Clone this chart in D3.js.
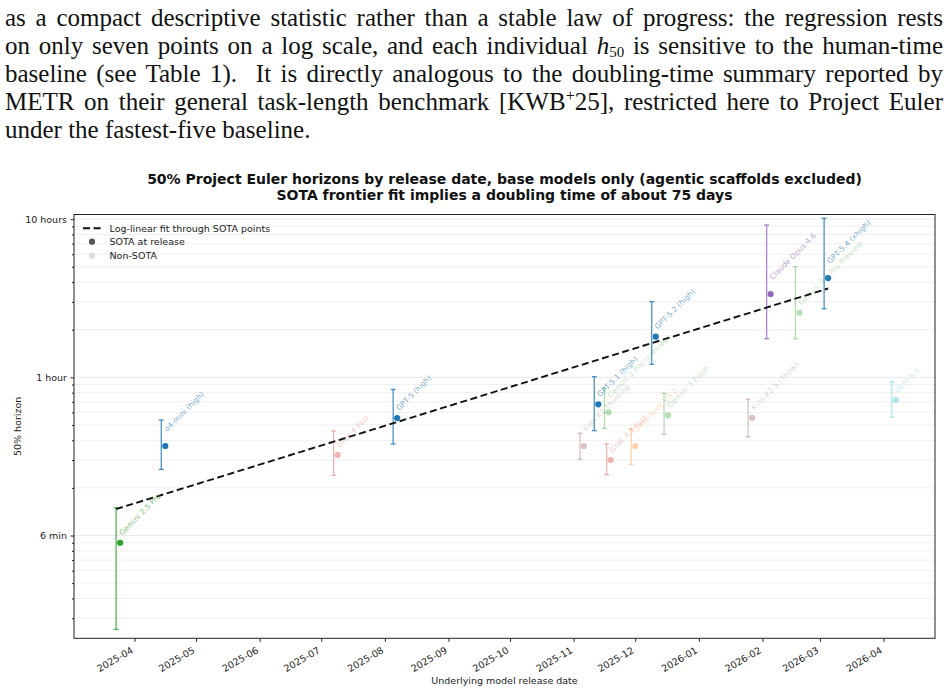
<!DOCTYPE html>
<html lang="en">
<head>
<meta charset="utf-8">
<title>50% Project Euler horizons by release date</title>
<script src="https://cdn.jsdelivr.net/npm/d3@7"></script>
<style>
  body { margin: 0; background: #fff; }
  svg { display: block; }
  .axis text { font-family: "DejaVu Sans", sans-serif; font-size: 9.5px; fill: #222; }
  .axis line { stroke: #222; }
  .axis path { display: none; }
</style>
</head>
<body>
<script>
// ---- data ----
const models = ["Gemini 2.5 Pro", "o4-mini (high)", "Grok 4 Fast", "GPT-5 (high)", "Kimi K2 Thinking",
  "GPT-5.1 (high)", "Gemini 3 Pro (preview)", "Grok 4.1 Fast", "DeepSeek V3.2", "GPT-5.2 (high)",
  "Gemini 3 Flash", "Kimi K2.5 (Think)", "Claude Opus 4.6", "Gemini 3.1 Pro Preview", "GPT-5.4 (xhigh)", "GLM-5.1"]
const releaseDates = ["2025-03-25", "2025-04-16", "2025-07-09", "2025-08-07", "2025-11-06",
  "2025-11-13", "2025-11-18", "2025-11-19", "2025-12-01", "2025-12-11",
  "2025-12-17", "2026-01-27", "2026-02-05", "2026-02-19", "2026-03-05", "2026-04-07"]
const developers = ["Google", "OpenAI", "xAI", "OpenAI", "Moonshot",
  "OpenAI", "Google", "xAI", "DeepSeek", "OpenAI",
  "Google", "Moonshot", "Anthropic", "Google", "OpenAI", "Zhipu"]
// 50% horizon in hours, with interval bounds
const horizonHours = [0.090, 0.368, 0.323, 0.553, 0.368, 0.675, 0.601, 0.300, 0.368, 1.806, 0.575, 0.555, 3.36, 2.56, 4.24, 0.719]
const lowerHours   = [0.0255, 0.262, 0.240, 0.379, 0.303, 0.460, 0.476, 0.242, 0.282, 1.208, 0.436, 0.421, 1.754, 1.754, 2.714, 0.559]
const upperHours   = [0.150, 0.537, 0.458, 0.840, 0.443, 1.009, 0.852, 0.379, 0.473, 3.006, 0.792, 0.729, 9.18, 5.00, 10.12, 0.938]
const isSota = [true, true, false, true, false, true, false, false, false, true, false, false, true, false, true, false]

const yTickValues = [0.1, 1, 10]
const yTickLabels = ["6 min", "1 hour", "10 hours"]

const titleLines = ["50% Project Euler horizons by release date, base models only (agentic scaffolds excluded)",
  "SOTA frontier fit implies a doubling time of about 75 days"]
const legendLabels = ["Log-linear fit through SOTA points", "SOTA at release", "Non-SOTA"]

// ---- styling ----
const devColor = {Google: "#2ca02c", OpenAI: "#1f77b4", xAI: "#d62728", Moonshot: "#8c564b",
  DeepSeek: "#ff7f0e", Anthropic: "#9467bd", Zhipu: "#17becf"}
const liftedLabels = new Set(["o4-mini (high)", "Kimi K2 Thinking", "Gemini 3 Pro (preview)",
  "DeepSeek V3.2", "Claude Opus 4.6", "GPT-5.4 (xhigh)"])

const w = 948
const h = 691
const box = {left: 74, right: 935, top: 214.5, bottom: 638.3}
const parseDate = d3.utcParse("%Y-%m-%d")

const svg = d3.select("body").append("svg")
    .attr("width", w)
    .attr("height", h)

// ---- paragraph above the figure ----
const para = [
  [{t: "as a compact descriptive statistic rather than a stable law of progress: the regression rests"}],
  [{t: "on only seven points on a log scale, and each individual "}, {t: "h", it: true}, {t: "50", sub: true},
   {t: " is sensitive to the human-time"}],
  [{t: "baseline (see Table 1).  It is directly analogous to the doubling-time summary reported by"}],
  [{t: "METR on their general task-length benchmark [KWB"}, {t: "+", sup: true}, {t: "25], restricted here to Project Euler"}],
  [{t: "under the fastest-five baseline."}]
]
para.forEach((segs, i) => {
  const t = svg.append("text")
      .attr("x", 5)
      .attr("y", 26 + i * 28)
      .attr("font-family", "'Liberation Serif', 'DejaVu Serif', serif")
      .attr("font-size", 25)
      .attr("fill", "#111")
      .style("white-space", "pre")
  segs.forEach(s => {
    const sp = t.append("tspan").text(s.t)
    if (s.it) sp.attr("font-style", "italic")
    if (s.sub) sp.attr("font-size", 15).attr("dy", 3)
    if (s.sup) sp.attr("font-size", 16).attr("dy", -9)
    if (s.sub || s.sup) sp.attr("data-back", s.sub ? -3 : 9)
  })
  // segment after a sub/superscript goes back to the baseline
  t.selectAll("tspan").each(function(d, j, nodes) {
    const prev = j > 0 ? nodes[j - 1] : null
    if (prev && prev.getAttribute("data-back")) this.setAttribute("dy", prev.getAttribute("data-back"))
  })
  if (i < para.length - 1) {
    const natural = t.node().getComputedTextLength()
    const spaces = (t.text().match(/ /g) || []).length
    t.style("word-spacing", ((938 - natural) / spaces) + "px")
  }
})

// ---- scales ----
const x = d3.scaleUtc()
    .domain([new Date(Date.UTC(2025, 2, 2, 12, 30)), new Date(Date.UTC(2026, 3, 26, 2))])
    .range([box.left, box.right])

const y = d3.scaleLog()
    .domain([0.0224, 10.7])
    .range([box.bottom, box.top])

const minorTicks = y.ticks().filter(v => !yTickValues.some(m => Math.abs(m - v) < 1e-9))

// ---- grid ----
svg.append("g")
    .selectAll("line")
    .data(minorTicks)
    .enter()
    .append("line")
    .attr("x1", box.left).attr("x2", box.right)
    .attr("y1", d => y(d)).attr("y2", d => y(d))
    .attr("stroke", "#ececec")
    .attr("stroke-width", 0.8)

svg.append("g")
    .selectAll("line")
    .data(yTickValues)
    .enter()
    .append("line")
    .attr("x1", box.left).attr("x2", box.right)
    .attr("y1", d => y(d)).attr("y2", d => y(d))
    .attr("stroke", "#e2e2e2")
    .attr("stroke-width", 0.8)

// ---- axes ----
const yAxis = d3.axisLeft(y)
    .tickValues(yTickValues)
    .tickFormat((d, i) => yTickLabels[i])
    .tickSize(3.5)
    .tickPadding(3.5)
svg.append("g")
    .attr("class", "axis")
    .attr("transform", `translate(${box.left}, 0)`)
    .call(yAxis)

svg.append("g")
    .attr("class", "axis")
    .attr("transform", `translate(${box.left}, 0)`)
    .call(d3.axisLeft(y).tickValues(minorTicks).tickFormat("").tickSize(2))

const xAxis = d3.axisBottom(x)
    .ticks(d3.utcMonth.every(1))
    .tickFormat(d3.utcFormat("%Y-%m"))
    .tickSize(3.5)
const gx = svg.append("g")
    .attr("class", "axis")
    .attr("transform", `translate(0, ${box.bottom})`)
    .call(xAxis)
gx.selectAll("text")
    .attr("text-anchor", "end")
    .attr("dy", null)
    .attr("y", null)
    .attr("transform", "translate(-1, 14) rotate(-30)")

svg.append("rect")
    .attr("x", box.left)
    .attr("y", box.top)
    .attr("width", box.right - box.left)
    .attr("height", box.bottom - box.top)
    .attr("fill", "none")
    .attr("stroke", "#222")
    .attr("stroke-width", 1)

// ---- points ----
const rows = models.map((m, i) => ({
  name: m,
  date: parseDate(releaseDates[i]),
  hours: horizonHours[i],
  lo: lowerHours[i],
  hi: upperHours[i],
  sota: isSota[i],
  color: devColor[developers[i]]
}))

const barShift = -4
const cap = 2.5

const bars = svg.append("g")
    .selectAll("g")
    .data(rows)
    .enter()
    .append("g")
    .attr("stroke", d => d.color)
    .attr("stroke-opacity", d => d.sota ? 0.8 : 0.35)
    .attr("stroke-width", 1.3)
bars.append("line")
    .attr("x1", d => x(d.date) + barShift).attr("x2", d => x(d.date) + barShift)
    .attr("y1", d => y(d.lo)).attr("y2", d => y(d.hi))
bars.append("line")
    .attr("x1", d => x(d.date) + barShift - cap).attr("x2", d => x(d.date) + barShift + cap)
    .attr("y1", d => y(d.lo)).attr("y2", d => y(d.lo))
bars.append("line")
    .attr("x1", d => x(d.date) + barShift - cap).attr("x2", d => x(d.date) + barShift + cap)
    .attr("y1", d => y(d.hi)).attr("y2", d => y(d.hi))

// log-linear fit through SOTA points
const sotaRows = rows.filter(d => d.sota)
const dayMs = 864e5
const t0 = sotaRows[0].date.getTime()
const fx = sotaRows.map(d => (d.date.getTime() - t0) / dayMs)
const fy = sotaRows.map(d => Math.log10(d.hours))
const mx = d3.mean(fx)
const my = d3.mean(fy)
const slope = d3.sum(fx, (v, i) => (v - mx) * (fy[i] - my)) / d3.sum(fx, v => (v - mx) * (v - mx))
const icpt = my - slope * mx
const fitEnds = [-2, d3.max(fx)]

svg.append("line")
    .attr("x1", x(new Date(t0 + fitEnds[0] * dayMs)))
    .attr("y1", y(Math.pow(10, icpt + slope * fitEnds[0])))
    .attr("x2", x(new Date(t0 + fitEnds[1] * dayMs)))
    .attr("y2", y(Math.pow(10, icpt + slope * fitEnds[1])))
    .attr("stroke", "#111")
    .attr("stroke-width", 1.9)
    .attr("stroke-dasharray", "7,3.6")

svg.append("g")
    .selectAll("circle")
    .data(rows)
    .enter()
    .append("circle")
    .attr("cx", d => x(d.date))
    .attr("cy", d => y(d.hours))
    .attr("r", 3.1)
    .attr("fill", d => d.color)
    .attr("fill-opacity", d => d.sota ? 1 : 0.35)

svg.append("g")
    .selectAll("text")
    .data(rows)
    .enter()
    .append("text")
    .attr("transform", d => `translate(${x(d.date) + 2}, ${y(d.hours) - (liftedLabels.has(d.name) ? 14 : 7)}) rotate(-45)`)
    .attr("font-family", "'DejaVu Sans', sans-serif")
    .attr("font-size", 7.5)
    .attr("fill", d => d.color)
    .attr("fill-opacity", d => d.sota ? 0.65 : 0.3)
    .text(d => d.name)

// ---- legend ----
const lg = svg.append("g")
    .attr("font-family", "'DejaVu Sans', sans-serif")
    .attr("font-size", 9.5)
    .attr("fill", "#222")
lg.append("line")
    .attr("x1", 83).attr("x2", 101)
    .attr("y1", 228.3).attr("y2", 228.3)
    .attr("stroke", "#111")
    .attr("stroke-width", 1.9)
    .attr("stroke-dasharray", "7,3.6")
lg.append("circle").attr("cx", 92).attr("cy", 241.7).attr("r", 3.1).attr("fill", "#555")
lg.append("circle").attr("cx", 92).attr("cy", 255.7).attr("r", 3.1).attr("fill", "#ddd")
lg.selectAll("text")
    .data(legendLabels)
    .enter()
    .append("text")
    .attr("x", 109.5)
    .attr("y", (d, i) => 231.6 + i * 13.8)
    .text(d => d)

// ---- titles ----
svg.selectAll(".title")
    .data(titleLines)
    .enter()
    .append("text")
    .attr("class", "title")
    .attr("x", (box.left + box.right) / 2)
    .attr("y", (d, i) => 184 + i * 16)
    .attr("text-anchor", "middle")
    .attr("font-family", "'DejaVu Sans', sans-serif")
    .attr("font-weight", "bold")
    .attr("font-size", 14)
    .attr("fill", "#111")
    .text(d => d)

svg.append("text")
    .attr("x", (box.left + box.right) / 2)
    .attr("y", 683.5)
    .attr("text-anchor", "middle")
    .attr("font-family", "'DejaVu Sans', sans-serif")
    .attr("font-size", 9.5)
    .attr("fill", "#222")
    .text("Underlying model release date")

svg.append("text")
    .attr("transform", `translate(20.5, ${(box.top + box.bottom) / 2}) rotate(-90)`)
    .attr("text-anchor", "middle")
    .attr("font-family", "'DejaVu Sans', sans-serif")
    .attr("font-size", 9.5)
    .attr("fill", "#222")
    .text("50% horizon")
</script>
</body>
</html>
